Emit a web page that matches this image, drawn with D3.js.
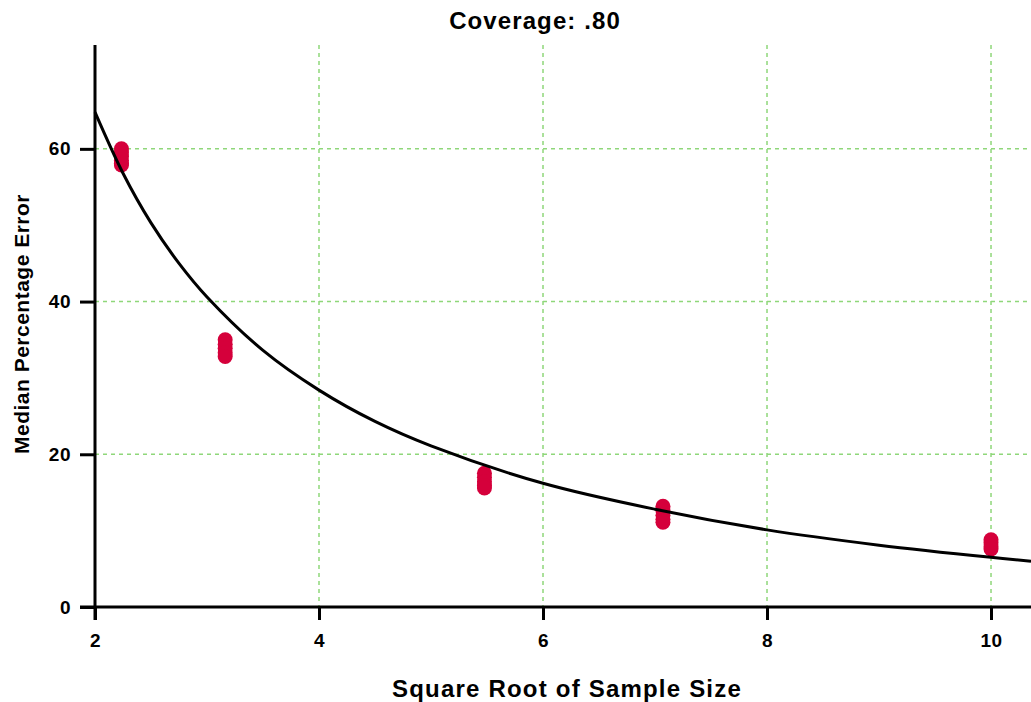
<!DOCTYPE html>
<html>
<head>
<meta charset="utf-8">
<script src="https://cdn.jsdelivr.net/npm/d3@7"></script>
<style>
  html, body { margin: 0; padding: 0; background: #fff; }
  svg { display: block; }
  text { font-family: "Liberation Sans", Arial, sans-serif; font-weight: bold; fill: #000; }
</style>
</head>
<body>
<svg id="chart" width="1031" height="702"></svg>
<script>
// Observed medians, grouped by sample size
const sampleSizes = [5, 10, 30, 50, 100];
const errorsN5   = [60.0, 59.5, 59.0, 58.5, 58.1, 57.9];
const errorsN10  = [35.0, 34.4, 33.9, 33.3, 32.8];
const errorsN30  = [17.5, 17.0, 16.4, 15.9, 15.6];
const errorsN50  = [13.2, 12.6, 12.0, 11.5, 11.1];
const errorsN100 = [8.8, 8.4, 7.9, 7.6];
const errorGroups = [errorsN5, errorsN10, errorsN30, errorsN50, errorsN100];

// Fitted curve: sqrt(n) vs. error
const fitX = [2.0, 2.25, 2.5, 2.75, 3.0, 3.5, 4.0, 4.5, 5.0, 6.0, 7.0, 8.0, 9.0, 10.0, 10.357];
const fitY = [64.8, 56.8, 50.3, 45.0, 40.6, 33.6, 28.4, 24.3, 21.1, 16.2, 12.8, 10.1, 8.1, 6.5, 6.0];

const xTicks = [2, 4, 6, 8, 10];
const yTicks = [0, 20, 40, 60];

const svg = d3.select("#chart");

const x = d3.scaleLinear().domain([2, 10.357]).range([95, 1031]);
const y = d3.scaleLinear().domain([0, 73.6]).range([607, 45]);

// Grid lines
const grid = svg.append("g")
  .attr("stroke", "#8fd77a")
  .attr("stroke-width", 1.5)
  .attr("stroke-dasharray", "4,4");
grid.selectAll("line.v").data(xTicks.filter(d => d !== 2)).join("line")
  .attr("x1", d => x(d)).attr("x2", d => x(d))
  .attr("y1", y(73.6)).attr("y2", y(0));
grid.selectAll("line.h").data(yTicks.filter(d => d !== 0)).join("line")
  .attr("x1", x(2)).attr("x2", x(10.357))
  .attr("y1", d => y(d)).attr("y2", d => y(d));

// Points
const points = [];
sampleSizes.forEach((n, i) => errorGroups[i].forEach(v => points.push({ n, v })));
svg.append("g").selectAll("circle").data(points).join("circle")
  .attr("cx", d => x(Math.sqrt(d.n)))
  .attr("cy", d => y(d.v))
  .attr("r", 7.5)
  .attr("fill", "#d5003b");

// Fit line
const fit = fitX.map((d, i) => [d, fitY[i]]);
svg.append("path")
  .datum(fit)
  .attr("fill", "none")
  .attr("stroke", "#000")
  .attr("stroke-width", 3)
  .attr("d", d3.line().x(d => x(d[0])).y(d => y(d[1])).curve(d3.curveCatmullRom.alpha(0.5)));

// Axes
const xAxis = svg.append("g").attr("transform", `translate(0,${y(0)})`)
  .call(d3.axisBottom(x).tickValues(xTicks).tickSize(13).tickPadding(14).tickFormat(d3.format("d")));
const yAxis = svg.append("g").attr("transform", `translate(${x(2)},0)`)
  .call(d3.axisLeft(y).tickValues(yTicks).tickSize(15).tickPadding(9).tickFormat(d3.format("d")));
[xAxis, yAxis].forEach(g => {
  g.select(".domain").remove();
  g.selectAll(".tick line").attr("stroke", "#000").attr("stroke-width", 3);
  g.selectAll(".tick text").style("font-size", "19px").style("font-family", "'Liberation Sans', Arial, sans-serif").style("font-weight", "bold").style("letter-spacing", "0.5px");
});
svg.append("line").attr("x1", x(2)).attr("x2", x(2)).attr("y1", y(73.6)).attr("y2", y(0) + 13)
  .attr("stroke", "#000").attr("stroke-width", 3);
svg.append("line").attr("x1", x(2) - 15).attr("x2", 1031).attr("y1", y(0)).attr("y2", y(0))
  .attr("stroke", "#000").attr("stroke-width", 3);

// Titles
svg.append("text").attr("x", 535).attr("y", 29).attr("text-anchor", "middle")
  .style("font-size", "24px").style("letter-spacing", "1.1px").text("Coverage: .80");
svg.append("text").attr("x", 567).attr("y", 697).attr("text-anchor", "middle")
  .style("font-size", "24px").style("letter-spacing", "1.2px").text("Square Root of Sample Size");
svg.append("text").attr("transform", "translate(29,324) rotate(-90)").attr("text-anchor", "middle")
  .style("font-size", "21px").style("letter-spacing", "0.5px").text("Median Percentage Error");
</script>
</body>
</html>
